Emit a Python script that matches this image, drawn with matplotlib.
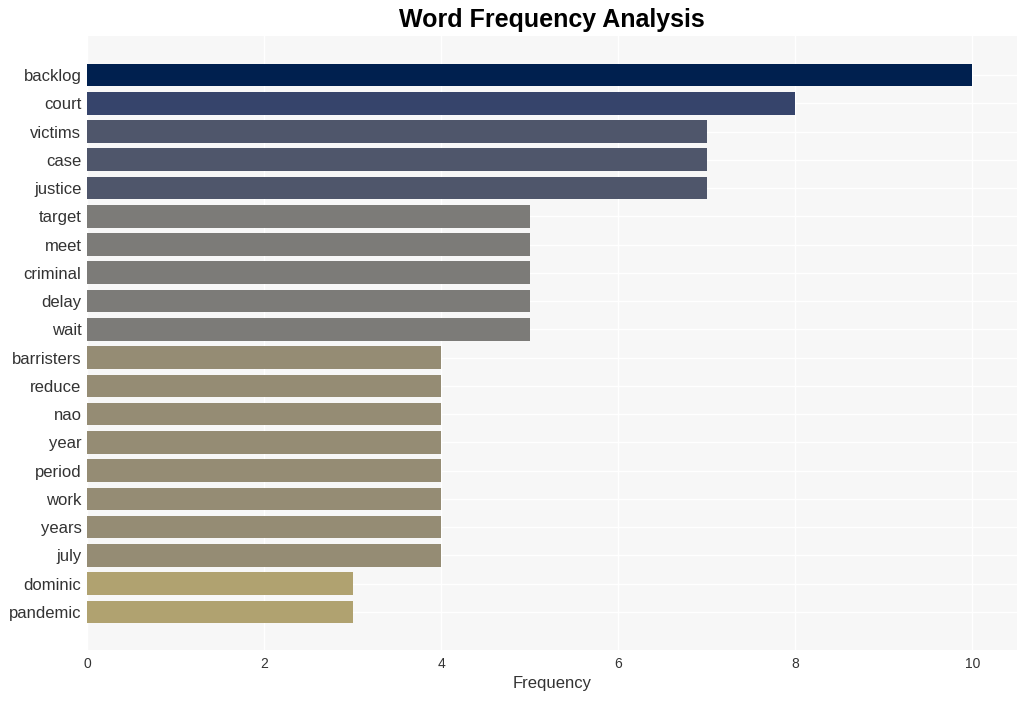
import matplotlib
matplotlib.use("Agg")
import matplotlib.pyplot as plt

words = ["backlog", "court", "victims", "case", "justice", "target", "meet", "criminal",
         "delay", "wait", "barristers", "reduce", "nao", "year", "period", "work", "years",
         "july", "dominic", "pandemic"]
counts = [10, 8, 7, 7, 7, 5, 5, 5, 5, 5, 4, 4, 4, 4, 4, 4, 4, 4, 3, 3]
xticks = [0, 2, 4, 6, 8, 10]

plt.rcParams['font.family'] = ['Liberation Sans', 'DejaVu Sans']

level_colors = {10: '#00204f', 8: '#36446b', 7: '#4f566b', 5: '#7c7b78',
                4: '#958c74', 3: '#b0a270'}

fig = plt.figure(figsize=(10.27, 7.01), dpi=100)
ax = fig.add_axes([0.0847, 0.0728, 0.9053, 0.8758])
ax.set_facecolor('#f7f7f7')

colors = [level_colors[c] for c in counts]
ypos = list(range(len(words)))
ax.barh(ypos, counts, height=0.8, color=colors, zorder=3)
ax.set_yticks(ypos)
ax.set_yticklabels(words)
ax.set_ylim(len(words) - 1 + 1.35, -1.38)
ax.set_xlim(0, 10.5)
ax.set_xticks(xticks)
ax.set_xticklabels([str(t) for t in xticks])
ax.grid(True, color='white', linewidth=1.0, zorder=0)
ax.set_axisbelow(True)
for s in ax.spines.values():
    s.set_visible(False)
ax.tick_params(axis='both', length=0, colors='#333333')
ax.tick_params(axis='y', labelsize=12, pad=4)
ax.tick_params(axis='x', labelsize=10, pad=5)
ax.set_xlabel('Frequency', fontsize=12, color='#333333', labelpad=4)
fig.text(0.537, 0.971, 'Word Frequency Analysis', ha='center', va='center',
         fontsize=18, fontweight='bold', color='black')

fig.savefig('out.png', dpi=100, facecolor='white')
